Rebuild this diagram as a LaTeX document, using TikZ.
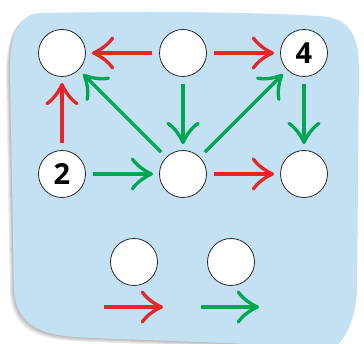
\documentclass[tikz,border=0pt]{standalone}
\usepackage{fontspec}
\newfontfamily\digitfont{Open Sans}
\usetikzlibrary{arrows.meta}
\definecolor{bgblue}{HTML}{C4E1F4}
\definecolor{arrred}{HTML}{E52629}
\definecolor{arrgreen}{HTML}{00A651}
% arrow tip with curved barbs
\pgfdeclarearrow{
  name = Curly,
  parameters = {\the\pgfarrowlength,\the\pgfarrowwidth,\the\pgfarrowlinewidth},
  setup code = {
    \pgfarrowssettipend{.5\pgfarrowlinewidth}
    \pgfarrowssetlineend{-1pt}
    \pgfarrowssetbackend{-\pgfarrowlength}
    \pgfarrowshullpoint{0pt}{0pt}
    \pgfarrowsupperhullpoint{-\pgfarrowlength}{.5\pgfarrowwidth}
  },
  drawing code = {
    \pgfsetlinewidth{\pgfarrowlinewidth}
    \pgfsetdash{}{0pt}
    \pgfsetroundcap
    \pgfsetroundjoin
    \pgfpathmoveto{\pgfqpoint{-\pgfarrowlength}{.5\pgfarrowwidth}}
    \pgfpathcurveto{\pgfqpoint{-.8\pgfarrowlength}{.3\pgfarrowwidth}}
      {\pgfqpoint{-.4\pgfarrowlength}{.115\pgfarrowwidth}}{\pgfpointorigin}
    \pgfpathcurveto{\pgfqpoint{-.4\pgfarrowlength}{-.115\pgfarrowwidth}}
      {\pgfqpoint{-.8\pgfarrowlength}{-.3\pgfarrowwidth}}
      {\pgfqpoint{-\pgfarrowlength}{-.5\pgfarrowwidth}}
    \pgfusepathqstroke
  },
  defaults = {length=19pt, width=30pt, line width=+0pt 1 1}
}
\newcommand\blobshape{(40,13) .. controls (150,11) and (250,12) .. (320,16)
  .. controls (350,18) and (359,35) .. (359,70) -- (357,290)
  .. controls (356,318) and (346,340) .. (332,350)
  .. controls (250,342) and (150,341) .. (75,337)
  .. controls (35,334) and (18,322) .. (14,292) -- (10,70)
  .. controls (10,32) and (20,14) .. (40,13) -- cycle}
\tikzset{
  spot/.style={circle,draw=black!85,line width=0.8pt,fill=white,minimum size=47pt,inner sep=0pt,
    font=\digitfont\bfseries\fontsize{29}{29}\selectfont},
  link/.style={line width=3.3pt,-{Curly},shorten <=7pt,shorten >=6pt},
  redarr/.style={link,draw=arrred},
  greenarr/.style={link,draw=arrgreen}
}
\begin{document}
\begin{tikzpicture}[x=1pt,y=-1pt]
	\useasboundingbox (0,0) rectangle (364,344);
	% shadow and background
	\foreach \s in {1,2,3,4}
		\fill[black,opacity=0.07,xshift=-\s pt,yshift=-\s pt] \blobshape;
	\fill[bgblue] \blobshape;
	% circles
	\node[spot] (tl) at (62,53) {};
	\node[spot] (tm) at (183,53) {};
	\node[spot] (tr) at (304,53) {4};
	\node[spot] (ml) at (62,174) {2};
	\node[spot] (mm) at (183,174) {};
	\node[spot] (mr) at (304,174) {};
	\node[spot] (bl) at (134,262) {};
	\node[spot] (br) at (231,262) {};
	\coordinate (ra) at (104,307);
	\coordinate (rb) at (163,307);
	\coordinate (ga) at (201,307);
	\coordinate (gb) at (259,307);
	% arrows
	\draw[redarr] (tm) -- (tl);
	\draw[redarr] (tm) -- (tr);
	\draw[redarr] (ml) -- (tl);
	\draw[redarr] (mm) -- (mr);
	\draw[greenarr] (ml) -- (mm);
	\draw[greenarr] (tm) -- (mm);
	\draw[greenarr] (tr) -- (mr);
	\draw[greenarr] (mm) -- (tl);
	\draw[greenarr] (mm) -- (tr);
	\draw[redarr,shorten <=0pt,shorten >=0pt] (ra) -- (rb);
	\draw[greenarr,shorten <=0pt,shorten >=0pt] (ga) -- (gb);
\end{tikzpicture}
\end{document}
